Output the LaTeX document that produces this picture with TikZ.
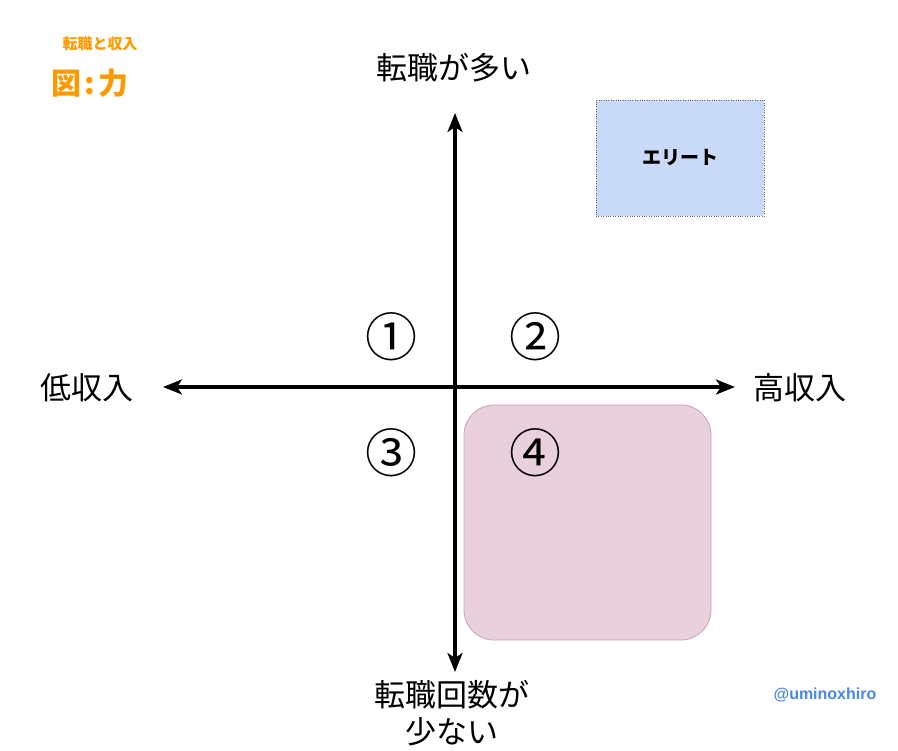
\documentclass[tikz,border=0pt]{standalone}
\usepackage{fontspec}
\setmainfont{Noto Sans CJK JP}
\newfontfamily\latinsans{Liberation Sans}
\usetikzlibrary{arrows.meta}
\definecolor{orangeT}{HTML}{FF9900}
\definecolor{blueT}{HTML}{4A86E8}
\definecolor{eliteFill}{HTML}{C9DAF8}
\definecolor{pinkFill}{HTML}{E8D0DC}
\definecolor{pinkLine}{HTML}{C9A0B8}
\tikzset{
  axis/.style={line width=3.2pt,-{Stealth[length=19pt,width=15pt,inset=5pt]}},
  biglabel/.style={font=\fontsize{31}{37}\selectfont,align=center,inner sep=0pt},
  circnum/.style={font=\fontsize{52}{58}\selectfont,inner sep=0pt},
}
\begin{document}
\begin{tikzpicture}[x=1pt,y=-1pt]
\useasboundingbox (0,0) rectangle (898,751);
% pink rounded box
\node[draw=pinkLine,fill=pinkFill,rounded corners=30pt,minimum width=247pt,minimum height=235pt,inner sep=0pt,line width=0.8pt] (q4box) at (587.5,522.5) {};
% elite box
\node[draw=black!60,dotted,fill=eliteFill,minimum width=168pt,minimum height=116pt,inner sep=0pt,font=\bfseries\fontsize{19}{22}\selectfont] (elite) at (680,158) {エリート};
% axes
\coordinate (center) at (455,387);
\coordinate (left) at (163,387);
\coordinate (right) at (735,387);
\coordinate (top) at (455,113);
\coordinate (bottom) at (455,672);
\draw[axis] (center) -- (left);
\draw[axis] (center) -- (right);
\draw[axis] (center) -- (top);
\draw[axis] (center) -- (bottom);
% axis labels
\node[biglabel] (ltop) at (454,68) {転職が多い};
\node[biglabel] (lleft) at (87,388) {低収入};
\node[biglabel] (lright) at (800,388) {高収入};
\node[biglabel] (lbottom) at (452,713) {転職回数が\\少ない};
% quadrant numbers
\node[circnum] (n1) at (391,337) {①};
\node[circnum] (n2) at (535,337) {②};
\node[circnum] (n3) at (391,453) {③};
\node[circnum] (n4) at (535,453) {④};
% title
\node[text=orangeT,font=\bfseries\fontsize{15}{17}\selectfont,inner sep=0pt] (subtitle) at (100,44) {転職と収入};
\node[text=orangeT,font=\bfseries\fontsize{30}{34}\selectfont,inner sep=0pt] (title) at (90,83) {図\kern3pt:\kern3pt力};
% author
\node[text=blueT,font=\latinsans\bfseries\fontsize{16}{18}\selectfont,inner sep=0pt] (author) at (825,695) {@uminoxhiro};
\end{tikzpicture}
\end{document}
